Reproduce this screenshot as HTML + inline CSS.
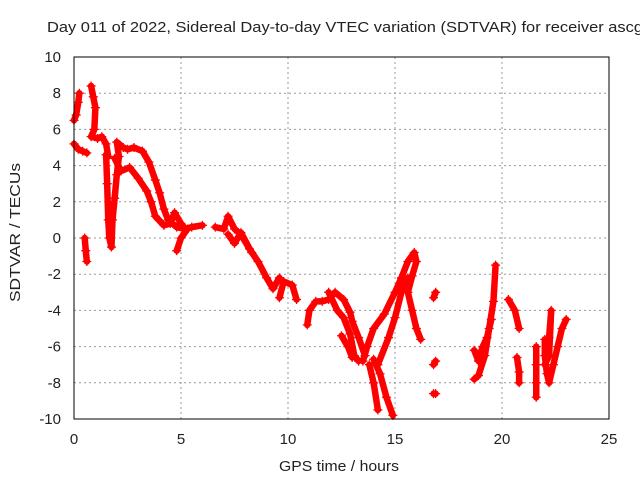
<!DOCTYPE html>
<html><head><meta charset="utf-8"><style>
body{margin:0;background:#fff;}
svg text{font-family:"Liberation Sans",sans-serif;font-size:15px;fill:#222;}
</style></head><body>
<svg id="chart" width="640" height="480" xmlns="http://www.w3.org/2000/svg">
<text x="47" y="32" textLength="596" lengthAdjust="spacingAndGlyphs">Day 011 of 2022, Sidereal Day-to-day VTEC variation (SDTVAR) for receiver ascg</text>
<g id="grid"></g>
<g id="marks"></g>
<rect x="74" y="57" width="535" height="362" fill="none" stroke="#000" stroke-width="1"/>
<g id="ticks"></g>
<text x="279" y="471" textLength="120" lengthAdjust="spacingAndGlyphs">GPS time / hours</text>
<text x="0" y="0" textLength="139" lengthAdjust="spacingAndGlyphs" transform="translate(20,302) rotate(-90)">SDTVAR / TECUs</text>
</svg>
<script>
const xTicks=[0,5,10,15,20,25];
const yTicks=[-10,-8,-6,-4,-2,0,2,4,6,8,10];
const track1=[[0,6.5],[0.1,6.8],[0.2,7.5],[0.25,8]];
const track2=[[0,5.2],[0.2,4.9],[0.4,4.8],[0.6,4.7]];
const track3=[[0.5,0],[0.55,-0.7],[0.6,-1.3]];
const track4=[[0.8,8.4],[0.9,7.8],[1.0,7.2],[0.95,6],[0.8,5.6],[1.1,5.5],[1.3,5.6],[1.5,5.2],[1.6,4.5]];
const track5=[[1.5,4.6],[1.55,3],[1.6,1],[1.65,0],[1.75,-0.5],[1.8,1],[1.9,2.2],[2.0,3.5],[2.1,4.5],[2.0,5.3],[2.3,5],[2.5,4.9],[2.8,5],[3.2,4.8],[3.5,4.2],[3.8,3.2],[4.0,2.5],[4.2,1.6],[4.4,1.0],[4.8,0.6],[5.2,0.5],[5.5,0.6],[6.0,0.7]];
const track6=[[1.9,4.4],[2.2,3.7],[2.6,3.9],[3.0,3.3],[3.4,2.6],[3.6,2.0],[3.8,1.2],[4.2,0.7],[4.5,0.8],[4.7,1.4],[5.0,0.8],[5.2,0.5]];
const track7=[[4.8,-0.7],[5.0,0],[5.3,0.5]];
const track8=[[6.6,0.6],[7.0,0.5],[7.2,1.2],[7.5,0.5],[7.8,0.2],[8.2,-0.6],[8.6,-1.3],[9.0,-2.2],[9.3,-2.8],[9.6,-2.2]];
const track9=[[7.2,0.2],[7.5,-0.3],[7.8,0.3],[8.3,-0.8]];
const track10=[[9.6,-3.3],[9.8,-2.4],[10.2,-2.6],[10.4,-3.4]];
const track11=[[10.9,-4.8],[11.0,-4.0],[11.3,-3.5],[11.6,-3.5],[11.9,-3.4],[12.2,-3.0],[12.6,-3.4],[12.9,-4.1],[13.0,-4.6],[13.3,-5.5],[13.6,-6.5]];
const track12=[[11.9,-3.0],[12.3,-4.0],[12.6,-4.4],[12.9,-5.3],[13.1,-6.5],[13.3,-6.8]];
const track13=[[12.5,-5.4],[12.8,-6.0],[13.0,-6.6]];
const track14=[[13.5,-6.8],[13.7,-6.0],[14.0,-5.0],[14.5,-4.2],[15.0,-3.0],[15.3,-2.2],[15.6,-1.3],[15.9,-0.8],[16.0,-1.3],[15.8,-2.1],[15.6,-3.0],[15.8,-4.0],[16.0,-5.0],[16.2,-5.6]];
const track15=[[14.2,-7.0],[14.7,-5.5],[15.0,-4.4],[15.3,-3.0],[15.6,-2.2]];
const track16=[[13.8,-7.0],[14.0,-8.0],[14.2,-9.5]];
const track17=[[14.0,-6.7],[14.3,-7.5],[14.6,-8.8],[14.9,-9.8]];
const track18=[[16.8,-3.3],[16.9,-3.0]];
const track19=[[16.8,-7.0],[16.9,-6.8]];
const track20=[[16.8,-8.6],[16.9,-8.6]];
const track21=[[18.7,-7.8],[18.9,-7.6],[19.2,-6.5],[19.4,-5.0],[19.6,-3.5],[19.7,-1.5]];
const track22=[[18.7,-6.2],[18.9,-6.8],[19.1,-6.0],[19.3,-5.5],[19.5,-4.5]];
const track23=[[20.3,-3.4],[20.6,-4.0],[20.8,-5.0]];
const track24=[[20.7,-6.6],[20.8,-7.4],[20.8,-8.0]];
const track25=[[21.6,-6.0],[21.6,-7.0],[21.6,-8.0],[21.6,-8.8]];
const track26=[[22.0,-5.6],[22.0,-6.5],[22.1,-7.5],[22.2,-8.0],[22.4,-7.0],[22.6,-6.0],[22.8,-5.0],[23.0,-4.5]];
const track27=[[22.0,-7.0],[22.2,-6.5],[22.3,-4.0],[22.2,-5.5]];
const tracks=[track1,track2,track3,track4,track5,track6,track7,track8,track9,track10,track11,track12,track13,track14,track15,track16,track17,track18,track19,track20,track21,track22,track23,track24,track25,track26,track27];

const X0=74,X1=609,Y0=419,Y1=57;
function sx(v){return X0+(v-0)/(25-0)*(X1-X0);}
function sy(v){return Y0-(v+10)/20*(Y0-Y1);}
const NS="http://www.w3.org/2000/svg";
function mk(tag,attrs,parent){const e=document.createElementNS(NS,tag);for(const k in attrs)e.setAttribute(k,attrs[k]);parent.appendChild(e);return e;}
const grid=document.getElementById('grid'),ticks=document.getElementById('ticks'),marks=document.getElementById('marks');
xTicks.forEach(t=>{
  const x=sx(t);
  if(t>0&&t<25){const g=mk('line',{x1:x,x2:x,y1:Y1,y2:Y0,stroke:'#999','stroke-dasharray':'2,3'},grid);
  
  }
  const l=mk('text',{x:x,y:444,'text-anchor':'middle'},ticks);l.textContent=t;
  
  
});
yTicks.forEach(t=>{
  const y=sy(t);
  if(t>-10&&t<10){const g=mk('line',{x1:X0,x2:X1,y1:y,y2:y,stroke:'#999','stroke-dasharray':'2,3'},grid);
  
  }
  const l=mk('text',{x:61,y:y+5,'text-anchor':'end'},ticks);l.textContent=t;
  
  
});
tracks.forEach((tr,i)=>{
  const pts=tr.map(p=>sx(p[0])+','+sy(p[1])).join(' ');
  const pl=mk('polyline',{points:pts,fill:'none',stroke:'#f00','stroke-width':6.5,'stroke-linejoin':'round','stroke-linecap':'round'},marks);
  
  
  tr.forEach(p=>{
    const x=sx(p[0]),y=sy(p[1]);
    const m=mk('path',{d:`M${x-4.5},${y}H${x+4.5}M${x},${y-4.5}V${y+4.5}`,stroke:'#f00','stroke-width':1.3},marks);
    
    
  });
});
</script>
</body></html>
